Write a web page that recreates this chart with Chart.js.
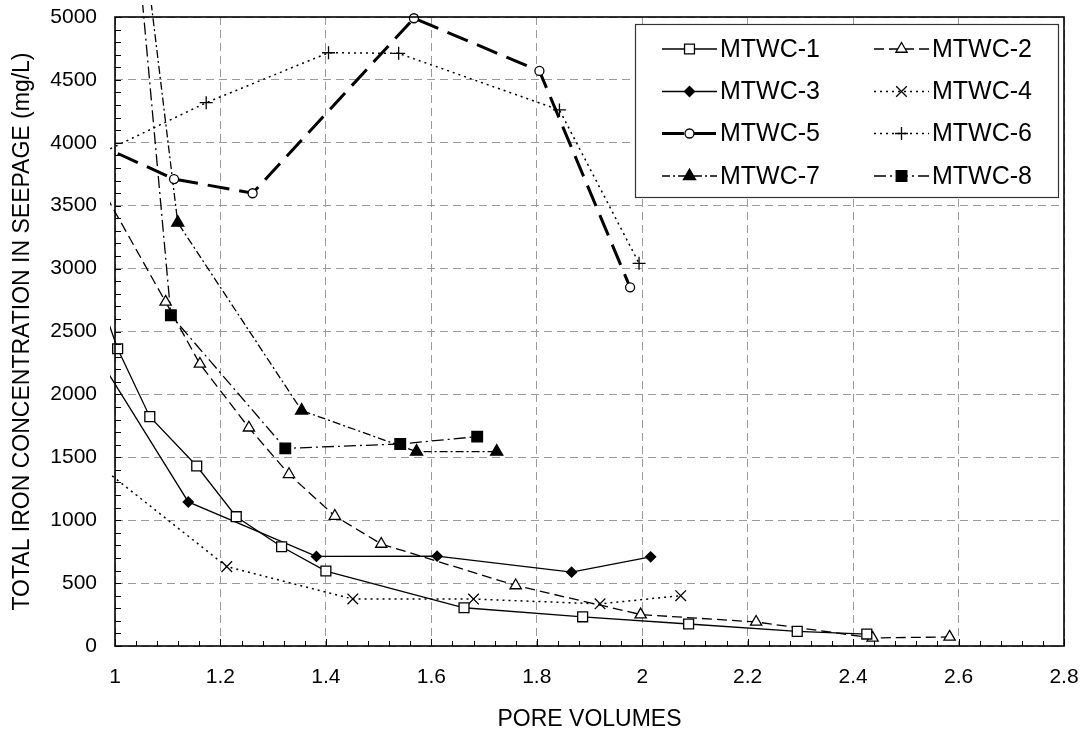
<!DOCTYPE html>
<html>
<head>
<meta charset="utf-8">
<title>Total iron concentration in seepage</title>
<script src="https://cdn.jsdelivr.net/npm/chart.js@4.4.1/dist/chart.umd.min.js"></script>
<style>
  html, body { margin: 0; padding: 0; background: #fff; }
  #chart { display: block; }
</style>
</head>
<body>
<canvas id="chart" width="1086" height="733"></canvas>
<script>
// pore volumes (x) and total iron in mg/L (y).
// first points of some series sit left of / above the plot and get clipped
const mtwc1X = [0.96, 1.005, 1.066, 1.155, 1.230, 1.316, 1.400, 1.662, 1.887, 2.088, 2.294, 2.426];
const mtwc1Y = [2900, 2363, 1823, 1431, 1028, 789, 596, 304, 232, 175, 116, 95];

const mtwc2X = [0.97, 1.096, 1.161, 1.254, 1.330, 1.417, 1.505, 1.760, 1.997, 2.216, 2.437, 2.583];
const mtwc2Y = [3675, 2735, 2242, 1735, 1365, 1033, 811, 481, 250, 191, 64, 72];

const mtwc3X = [0.95, 1.139, 1.382, 1.611, 1.866, 2.016];
const mtwc3Y = [2420, 1145, 712, 714, 587, 709];

const mtwc4X = [0.95, 1.212, 1.451, 1.680, 1.920, 2.073];
const mtwc4Y = [1500, 631, 374, 373, 335, 400];

const mtwc5X = [0.95, 1.112, 1.261, 1.567, 1.805, 1.977];
const mtwc5Y = [4020, 3712, 3599, 4990, 4571, 2851];

const mtwc6X = [0.95, 1.173, 1.405, 1.538, 1.843, 1.994];
const mtwc6Y = [3870, 4319, 4716, 4711, 4261, 3042];

const mtwc7X = [1.043, 1.119, 1.354, 1.572, 1.724];
const mtwc7Y = [6000, 3365, 1872, 1545, 1545];

const mtwc8X = [1.033, 1.106, 1.323, 1.541, 1.687];
const mtwc8Y = [6000, 2629, 1571, 1606, 1664];

const xTickLabels = ["1", "1.2", "1.4", "1.6", "1.8", "2", "2.2", "2.4", "2.6", "2.8"];
const yTickLabels = ["0", "500", "1000", "1500", "2000", "2500", "3000", "3500", "4000", "4500", "5000"];

const FONT = "'Liberation Sans', Arial, sans-serif";

function pts(xs, ys) {
  return xs.map((x, i) => ({ x, y: ys[i] }));
}

function series(label, xs, ys, style) {
  return Object.assign({
    label,
    data: pts(xs, ys),
    borderColor: "#000",
    backgroundColor: "#000",
    borderWidth: 1.3,
    borderDash: [],
    tension: 0,
    pointBorderColor: "#000",
    pointBackgroundColor: "#000",
    pointBorderWidth: 1.3,
    pointHoverRadius: 0,
    clip: { left: 5, top: 12, right: 0, bottom: 0 },
  }, style);
}

const datasets = [
  series("MTWC-1", mtwc1X, mtwc1Y, { pointStyle: "rect", pointRadius: 7, pointBackgroundColor: "#fff" }),
  series("MTWC-2", mtwc2X, mtwc2Y, { borderDash: [10, 5], pointStyle: "triangle", pointRadius: 6.5, pointBackgroundColor: "#fff" }),
  series("MTWC-3", mtwc3X, mtwc3Y, { pointStyle: "rectRot", pointRadius: 5 }),
  series("MTWC-4", mtwc4X, mtwc4Y, { borderDash: [2, 4], borderWidth: 1.5, pointStyle: "crossRot", pointRadius: 7.5 }),
  series("MTWC-5", mtwc5X, mtwc5Y, { borderWidth: 3, borderDash: [22, 10], pointStyle: "circle", pointRadius: 4.5, pointBackgroundColor: "#fff" }),
  series("MTWC-6", mtwc6X, mtwc6Y, { borderDash: [2, 4], borderWidth: 1.5, pointStyle: "cross", pointRadius: 6.5 }),
  series("MTWC-7", mtwc7X, mtwc7Y, { borderDash: [8, 3, 2, 3], pointStyle: "triangle", pointRadius: 7 }),
  series("MTWC-8", mtwc8X, mtwc8Y, { borderDash: [12, 4, 2, 4], pointStyle: "rect", pointRadius: 7.5 }),
];

// black frame round the plot plus the small inside ticks
const frameAndTicks = {
  id: "frameAndTicks",
  afterDatasetsDraw(chart) {
    const { ctx, chartArea: a } = chart;
    const xs = chart.scales.x, ys = chart.scales.y;
    ctx.save();
    ctx.setLineDash([]);
    ctx.strokeStyle = "#000";
    ctx.lineWidth = 1;
    ctx.beginPath();
    for (let v = 0; v <= 5000; v += 100) {
      const py = Math.round(ys.getPixelForValue(v)) + 0.5;
      ctx.moveTo(a.left, py);
      ctx.lineTo(a.left + 6, py);
    }
    for (let i = 0; i <= 45; i++) {
      const px = Math.round(xs.getPixelForValue(1 + i * 0.04)) + 0.5;
      ctx.moveTo(px, a.bottom);
      ctx.lineTo(px, a.bottom - (i % 5 === 0 ? 7 : 5));
    }
    ctx.stroke();
    ctx.lineWidth = 1.6;
    ctx.strokeRect(a.left, a.top, a.right - a.left, a.bottom - a.top);
    ctx.restore();
  },
};

// boxed two-column legend sitting inside the plot, top right
const insideLegend = {
  id: "insideLegend",
  afterDraw(chart) {
    const ctx = chart.ctx;
    const box = { left: 635, top: 24, right: 1058, bottom: 197 };
    const rows = [49, 91.5, 133.5, 176];
    const cols = [662, 874];
    const sampleW = 55;
    ctx.save();
    ctx.fillStyle = "#fff";
    ctx.fillRect(box.left, box.top, box.right - box.left, box.bottom - box.top);
    ctx.strokeStyle = "#333";
    ctx.lineWidth = 1.2;
    ctx.strokeRect(box.left + 0.5, box.top + 0.5, box.right - box.left, box.bottom - box.top);

    chart.data.datasets.forEach((ds, i) => {
      const y = rows[Math.floor(i / 2)];
      const x0 = cols[i % 2];
      ctx.strokeStyle = "#000";
      ctx.lineWidth = ds.borderWidth;
      ctx.setLineDash(ds.borderDash || []);
      ctx.beginPath();
      ctx.moveTo(x0, y);
      ctx.lineTo(x0 + sampleW, y);
      ctx.stroke();
      ctx.setLineDash([]);
      ctx.fillStyle = ds.pointBackgroundColor;
      ctx.strokeStyle = ds.pointBorderColor;
      ctx.lineWidth = ds.pointBorderWidth;
      Chart.helpers.drawPoint(ctx, {
        pointStyle: ds.pointStyle,
        radius: ds.pointRadius,
        rotation: 0,
        borderWidth: ds.pointBorderWidth,
      }, x0 + sampleW / 2, y);
      ctx.fillStyle = "#000";
      ctx.font = "25px " + FONT;
      ctx.textAlign = "left";
      ctx.textBaseline = "middle";
      ctx.fillText(ds.label, x0 + sampleW + 3, y + 1);
    });
    ctx.restore();
  },
};

new Chart(document.getElementById("chart"), {
  type: "line",
  data: { datasets },
  plugins: [frameAndTicks, insideLegend],
  options: {
    responsive: false,
    animation: false,
    devicePixelRatio: 1,
    layout: { padding: { left: 0, right: 22, top: 17, bottom: 0 } },
    plugins: {
      legend: { display: false },
      tooltip: { enabled: false },
    },
    scales: {
      x: {
        type: "linear",
        min: 1,
        max: 2.8,
        afterFit: (s) => {
          s.height = 87;
          s.paddingLeft = 0;
          s.paddingRight = 0;
        },
        ticks: {
          stepSize: 0.2,
          padding: 19,
          color: "#000",
          maxRotation: 0,
          autoSkip: false,
          font: { family: FONT, size: 21 },
          callback: (v, i) => xTickLabels[i],
        },
        grid: { color: "#9a9a9a", lineWidth: 1, drawTicks: false },
        border: { display: false, dash: [8, 5] },
        title: {
          display: true,
          text: "PORE VOLUMES",
          color: "#000",
          font: { family: FONT, size: 23 },
          padding: { top: 0, bottom: 0 },
        },
      },
      y: {
        min: 0,
        max: 5000,
        afterFit: (s) => {
          s.width = 115;
          s.paddingTop = 0;
          s.paddingBottom = 0;
        },
        ticks: {
          stepSize: 500,
          padding: 18,
          color: "#000",
          font: { family: FONT, size: 21 },
          callback: (v, i) => yTickLabels[i],
        },
        grid: { color: "#9a9a9a", lineWidth: 1, drawTicks: false },
        border: { display: false, dash: [8, 5] },
        title: {
          display: true,
          text: "TOTAL IRON CONCENTRATION IN SEEPAGE (mg/L)",
          color: "#000",
          font: { family: FONT, size: 23 },
          padding: { top: 9, bottom: 0 },
        },
      },
    },
  },
});
</script>
</body>
</html>
